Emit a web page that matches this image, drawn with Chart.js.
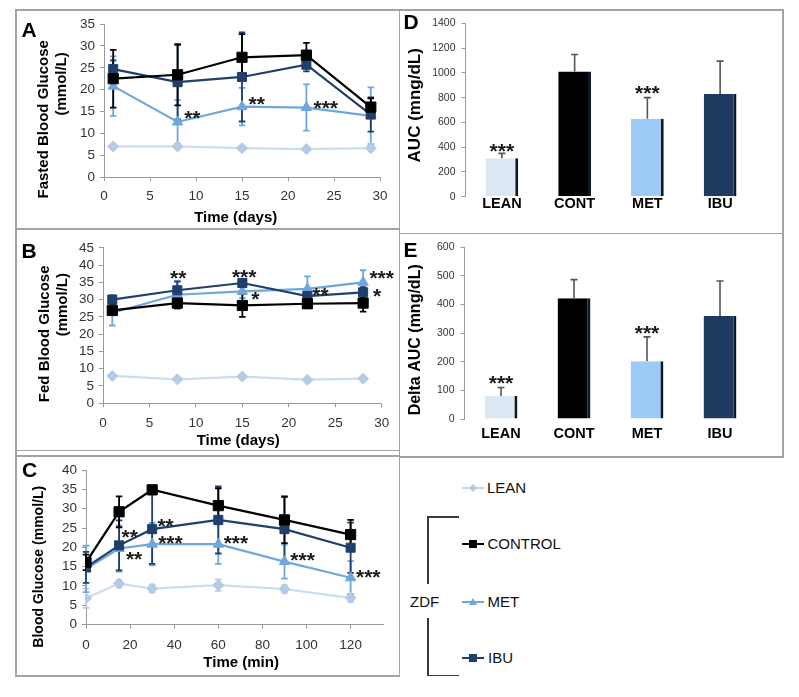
<!DOCTYPE html>
<html><head><meta charset="utf-8">
<script src="https://cdn.jsdelivr.net/npm/chart.js@4.4.1/dist/chart.umd.min.js"></script>
<style>
html,body{margin:0;padding:0;background:#fff;}
body{width:799px;height:697px;position:relative;overflow:hidden;font-family:"Liberation Sans",Arial,sans-serif;}
.hl,.vl{position:absolute;background:#a3a3a3;}
.hl{height:1.6px;} .vl{width:1.6px;}
.bk{position:absolute;background:#3a3a3a;}
canvas{position:absolute;}
.lbl{position:absolute;font-weight:bold;font-size:21px;line-height:21px;color:#000;}
.lg{position:absolute;font-size:15px;line-height:20px;height:20px;color:#111;white-space:nowrap;}
svg{position:absolute;}
</style></head><body>

<div class="vl" style="left:15.2px;top:9.2px;height:667.5px"></div>
<div class="vl" style="left:398.7px;top:9.2px;height:667.5px"></div>
<div class="vl" style="left:782.2px;top:9.2px;height:448.5px"></div>
<div class="hl" style="left:15.2px;top:9.2px;width:768.6px"></div>
<div class="hl" style="left:15.2px;top:228.4px;width:385px"></div>
<div class="hl" style="left:15.2px;top:449.8px;width:385px"></div>
<div class="hl" style="left:15.2px;top:455.4px;width:385px"></div>
<div class="hl" style="left:15.2px;top:675.2px;width:385px"></div>
<div class="hl" style="left:398.7px;top:232.8px;width:385px"></div>
<div class="hl" style="left:398.7px;top:456.4px;width:385px"></div>

<canvas id="cA" width="381" height="217" style="left:17px;top:11px"></canvas>
<canvas id="cB" width="381" height="219" style="left:17px;top:230.5px"></canvas>
<canvas id="cC" width="381" height="218" style="left:17px;top:457px"></canvas>
<canvas id="cD" width="381" height="221" style="left:401px;top:11px"></canvas>
<canvas id="cE" width="381" height="221" style="left:401px;top:235px"></canvas>

<div class="lbl" style="left:21.5px;top:18.7px">A</div>
<div class="lbl" style="left:21.5px;top:240px">B</div>
<div class="lbl" style="left:22px;top:459px">C</div>
<div class="lbl" style="left:403.5px;top:10.5px">D</div>
<div class="lbl" style="left:403.5px;top:239px">E</div>

<!-- legend -->
<svg style="left:461px;top:481px" width="26" height="14"><line x1="1" y1="7" x2="23" y2="7" stroke="#c3d7ec" stroke-width="2"/><path d="M12 3 L16 7 L12 11 L8 7Z" fill="#b3cbe7"/></svg>
<div class="lg" style="left:487px;top:478px">LEAN</div>
<svg style="left:461px;top:537px" width="26" height="14"><line x1="1" y1="7" x2="23" y2="7" stroke="#000" stroke-width="2"/><rect x="8" y="3" width="8" height="8" fill="#000"/></svg>
<div class="lg" style="left:487.5px;top:534px">CONTROL</div>
<svg style="left:461px;top:595px" width="26" height="14"><line x1="1" y1="7" x2="23" y2="7" stroke="#6ea6de" stroke-width="2"/><path d="M12 3 L16 10 L8 10Z" fill="#6ea6de"/></svg>
<div class="lg" style="left:487.5px;top:592px">MET</div>
<svg style="left:461px;top:651px" width="26" height="14"><line x1="1" y1="7" x2="23" y2="7" stroke="#1f3f6d" stroke-width="2"/><rect x="8" y="3" width="8" height="8" fill="#1f3f6d"/></svg>
<div class="lg" style="left:488px;top:648px">IBU</div>
<div class="lg" style="left:410px;top:592px">ZDF</div>
<div class="bk" style="left:427px;top:516px;width:1.5px;height:67.5px"></div>
<div class="bk" style="left:427px;top:618px;width:1.5px;height:58px"></div>
<div class="bk" style="left:427px;top:516px;width:31.5px;height:1.5px"></div>
<div class="bk" style="left:427px;top:674.5px;width:31.5px;height:1.5px"></div>

<script>
// ---------- data ----------
const daysA = [1, 8, 15, 22, 29];
const leanA = [7.0, 7.0, 6.6, 6.4, 6.6];
const leanAErr = [0.6, 0.6, 0.5, 0.5, 0.5];
const contA = [22.5, 23.4, 27.4, 27.9, 16.0];
const contAErr = [6.6, 7.0, 5.3, 2.8, 2.0];
const metA = [20.8, 12.6, 16.1, 15.9, 14.0];
const metAErr = [6.8, 5.0, 4.3, 5.3, 6.5];
const ibuA = [24.7, 21.7, 22.9, 25.7, 14.3];
const ibuAErr = [2.0, 8.5, 10.2, 1.5, 3.9];

const daysB = [1, 8, 15, 22, 28];
const leanB = [7.9, 6.9, 7.7, 6.8, 7.1];
const leanBErr = [0.5, 0.5, 0.5, 0.5, 0.5];
const contB = [26.9, 29.0, 28.3, 28.8, 29.0];
const contBErr = [1.0, 1.5, 3.3, 1.2, 2.5];
const metB = [26.2, 31.4, 32.4, 33.1, 35.0];
const metBErr = [3.7, 4.0, 2.0, 3.6, 3.5];
const ibuB = [30.0, 32.7, 34.8, 31.0, 32.1];
const ibuBErr = [1.2, 2.5, 1.0, 1.5, 1.5];

const minsC = [0, 15, 30, 60, 90, 120];
const leanC = [6.8, 10.6, 9.3, 10.2, 9.2, 6.9];
const leanCErr = [2.5, 1.0, 1.0, 1.5, 1.0, 1.0];
const contC = [16.1, 29.2, 34.9, 30.8, 27.1, 23.3];
const contCErr = [2.0, 4.0, 1.0, 4.5, 6.0, 3.8];
const metC = [14.4, 19.7, 20.8, 20.8, 16.3, 12.1];
const metCErr = [6.0, 6.0, 5.5, 5.1, 4.4, 4.3];
const ibuC = [14.8, 20.5, 24.7, 27.1, 24.7, 19.9];
const ibuCErr = [4.0, 6.5, 9.0, 8.7, 8.5, 6.5];

const groups = ['LEAN', 'CONT', 'MET', 'IBU'];
const aucD = [310, 1010, 630, 830];
const aucDErr = [40, 138, 170, 265];
const deltaE = [80, 422, 202, 360];
const deltaEErr = [30, 65, 85, 122];

const starsA = [{x: 9.6, y: 14.6, t: '**'}, {x: 16.6, y: 17.9, t: '**'}, {x: 24.1, y: 17.0, t: '***'}];
const starsB = [{x: 8.1, y: 37.8, t: '**'}, {x: 15.2, y: 38.1, t: '***'}, {x: 16.4, y: 31.5, t: '*'},
                {x: 23.4, y: 32.9, t: '**'}, {x: 30.0, y: 37.8, t: '***'}, {x: 29.5, y: 32.6, t: '*'}];
const starsC = [{x: 19.8, y: 24.0, t: '**'}, {x: 36.1, y: 26.9, t: '**'}, {x: 38.3, y: 22.4, t: '***'},
                {x: 21.8, y: 18.2, t: '**'}, {x: 68.0, y: 22.3, t: '***'}, {x: 98.2, y: 17.9, t: '***'},
                {x: 128.0, y: 13.6, t: '***'}];
const starsD = [{x: 0, y: 406, t: '***'}, {x: 2, y: 876, t: '***'}];
const starsE = [{x: 0, y: 145, t: '***'}, {x: 2, y: 318, t: '***'}];

// ---------- styles ----------
const FAM = '"Liberation Sans", Arial, sans-serif';
const NB = '\u00A0';
const cLean = '#b3cbe7', cLeanLine = '#c9dcf0';
const cCont = '#000000';
const cMet = '#6ea6de';
const cIbu = '#1f3f6d';
const axisCol = '#9a9a9a';
const tickCol = '#333';
const barCols = ['#dbe8f4', '#000000', '#9ecbf5', '#1f3a5f'];

const errPlugin = {
  id: 'errbars',
  beforeDatasetsDraw(chart, args, opts) { if (!opts.over) drawErr(chart, opts); },
  afterDatasetsDraw(chart, args, opts) { if (opts.over) drawErr(chart, opts); }
};
function drawErr(chart, opts) {
  const ctx = chart.ctx;
  ctx.save();
  const dss = chart.data.datasets;
  for (let i = dss.length - 1; i >= 0; i--) {
    const ds = dss[i];
    if (!ds.errors) continue;
    const meta = chart.getDatasetMeta(i);
    const ys = chart.scales[meta.yAxisID];
    meta.data.forEach((el, j) => {
      const raw = ds.data[j];
      const v = (raw !== null && typeof raw === 'object') ? raw.y : raw;
      const e = ds.errors[j];
      const x = el.x;
      const top = ys.getPixelForValue(v + e);
      const bot = opts.upOnly ? ys.getPixelForValue(v) : ys.getPixelForValue(v - e);
      ctx.strokeStyle = ds.errColor || opts.color;
      ctx.lineWidth = opts.width;
      ctx.beginPath();
      ctx.moveTo(x, top); ctx.lineTo(x, bot);
      ctx.moveTo(x - opts.cap / 2, top); ctx.lineTo(x + opts.cap / 2, top);
      if (!opts.upOnly) { ctx.moveTo(x - opts.cap / 2, bot); ctx.lineTo(x + opts.cap / 2, bot); }
      ctx.stroke();
    });
  }
  ctx.restore();
}
const starPlugin = {
  id: 'stars',
  afterDatasetsDraw(chart, args, opts) {
    const ctx = chart.ctx, xs = chart.scales.x, ys = chart.scales.y;
    ctx.save();
    ctx.font = 'bold ' + opts.size + 'px ' + FAM;
    ctx.fillStyle = '#1a1a1a';
    ctx.textAlign = 'center';
    ctx.textBaseline = 'alphabetic';
    opts.items.forEach(s => {
      ctx.fillText(s.t, xs.getPixelForValue(s.x), ys.getPixelForValue(s.y) + opts.size * 0.575);
    });
    ctx.restore();
  }
};

function mkDs(label, xs, ys, errs, col, lineCol, style, radius) {
  return {
    label, data: xs.map((x, i) => ({x, y: ys[i]})), errors: errs, errColor: col,
    borderColor: lineCol, backgroundColor: col, pointBackgroundColor: col, pointBorderColor: col,
    pointStyle: style, pointRadius: radius, pointBorderWidth: 1, borderWidth: 2.2, tension: 0
  };
}

function lineChart(id, c) {
  return new Chart(document.getElementById(id), {
    type: 'line',
    data: { datasets: [
      mkDs('CONTROL', c.xs, c.cont, c.contErr, cCont, cCont, 'rect', 7.2),
      mkDs('IBU', c.xs, c.ibu, c.ibuErr, cIbu, cIbu, 'rect', 6.4),
      mkDs('MET', c.xs, c.met, c.metErr, cMet, cMet, 'triangle', 6),
      mkDs('LEAN', c.xs, c.lean, c.leanErr, cLean, cLeanLine, 'rectRot', 5.5)
    ]},
    options: {
      responsive: false, animation: false, events: [],
      layout: { padding: { left: 0, right: c.R, top: c.T, bottom: 0 } },
      plugins: {
        legend: { display: false }, tooltip: { enabled: false },
        errbars: { over: false, width: 1.8, cap: 6.5, upOnly: false },
        stars: { items: c.stars, size: 21 }
      },
      scales: {
        x: {
          type: 'linear', min: 0, max: c.xmax,
          ticks: { stepSize: c.xstep, includeBounds: false, autoSkip: false, maxRotation: 0, padding: c.xtp, color: tickCol, font: { family: FAM, size: 13.5 } },
          grid: { drawOnChartArea: false, drawTicks: true, tickLength: 4, color: axisCol },
          border: { display: true, color: axisCol, width: 1 },
          title: { display: true, text: c.xtitle, color: '#000', font: { family: FAM, size: 15, weight: 'bold' }, padding: { top: 0, bottom: c.xpb } },
          afterFit: s => { s.height = c.Hx; }
        },
        y: {
          min: 0, max: c.ymax,
          ticks: { stepSize: 5, autoSkip: false, padding: 5, color: tickCol, font: { family: FAM, size: 13.5 } },
          grid: { drawOnChartArea: false, drawTicks: true, tickLength: 4, color: axisCol },
          border: { display: true, color: axisCol, width: 1 },
          title: { display: true, text: c.ytitle, color: '#000', font: { family: FAM, size: c.ytsize, weight: 'bold' }, padding: { top: c.ypt, bottom: 0 } },
          afterFit: s => { s.width = c.Wy; }
        }
      }
    },
    plugins: [errPlugin, starPlugin]
  });
}

function barChart(id, c) {
  return new Chart(document.getElementById(id), {
    type: 'bar',
    data: { labels: groups, datasets: [{
      data: c.vals, errors: c.errs, backgroundColor: barCols, borderColor: '#0b1829',
      borderWidth: { top: 0, right: 3, bottom: 0, left: 0 }, borderSkipped: false,
      barPercentage: 0.45, categoryPercentage: 1
    }]},
    options: {
      responsive: false, animation: false, events: [],
      layout: { padding: { left: 0, right: c.R, top: c.T, bottom: 0 } },
      plugins: {
        legend: { display: false }, tooltip: { enabled: false },
        errbars: { over: true, width: 1.6, cap: 7, upOnly: true, color: '#555' },
        stars: { items: c.stars, size: 21 }
      },
      scales: {
        x: {
          ticks: { padding: c.xtp, autoSkip: false, maxRotation: 0, color: '#000', font: { family: FAM, size: 14.5, weight: 'bold', lineHeight: 1 } },
          grid: { display: false, drawTicks: false },
          border: { display: false },
          afterFit: s => { s.height = c.Hx; }
        },
        y: {
          min: 0, max: c.ymax,
          ticks: { stepSize: c.ystep, autoSkip: false, padding: 6, color: tickCol, font: { family: FAM, size: 10.5 }, callback: v => String(v) },
          grid: { drawOnChartArea: false, drawTicks: true, tickLength: 4, color: axisCol },
          border: { display: true, color: axisCol, width: 1 },
          title: { display: true, text: c.ytitle, color: '#000', font: { family: FAM, size: c.ytsize, weight: 'bold' }, padding: { top: c.ypt, bottom: 0 } },
          afterFit: s => { s.width = c.Wy; }
        }
      }
    },
    plugins: [errPlugin, starPlugin]
  });
}

lineChart('cA', {
  xs: daysA, lean: leanA, leanErr: leanAErr, cont: contA, contErr: contAErr, met: metA, metErr: metAErr, ibu: ibuA, ibuErr: ibuAErr,
  stars: starsA, xmax: 30, xstep: 5, ymax: 35, R: 18, T: 11.5, Hx: 51, Wy: 87, xtp: 7.5, xpb: 1.5, ypt: 18,
  xtitle: 'Time (days)' + NB.repeat(3), ytsize: 15,
  ytitle: ['Fasted Blood Glucose' + NB.repeat(9), NB.repeat(8) + '(mmol/L)']
});
lineChart('cB', {
  xs: daysB, lean: leanB, leanErr: leanBErr, cont: contB, contErr: contBErr, met: metB, metErr: metBErr, ibu: ibuB, ibuErr: ibuBErr,
  stars: starsB, xmax: 30, xstep: 5, ymax: 45, R: 16.3, T: 16.8, Hx: 46.8, Wy: 86, xtp: 7.5, xpb: 0, ypt: 19,
  xtitle: 'Time (days)' + NB.repeat(2), ytsize: 15,
  ytitle: ['Fed Blood Glucose' + NB.repeat(4), NB.repeat(10) + '(mmol/L)']
});
lineChart('cC', {
  xs: minsC, lean: leanC, leanErr: leanCErr, cont: contC, contErr: contCErr, met: metC, metErr: metCErr, ibu: ibuC, ibuErr: ibuCErr,
  stars: starsC, xmax: 135, xstep: 20, ymax: 40, R: 14.3, T: 10.7, Hx: 50.5, Wy: 69, xtp: 9, xpb: 3, ypt: 14.1,
  xtitle: NB.repeat(3) + 'Time (min)', ytsize: 14,
  ytitle: 'Blood Glucose (mmol/L)' + NB.repeat(10)
});
barChart('cD', { vals: aucD, errs: aucDErr, stars: starsD, ymax: 1400, ystep: 200, R: 25.5, T: 7.3, Hx: 35.3, Wy: 64.5, xtp: 0,
  ytsize: 17, ypt: 4.3, ytitle: NB.repeat(2) + 'AUC (mng/dL)' });
barChart('cE', { vals: deltaE, errs: deltaEErr, stars: starsE, ymax: 600, ystep: 100, R: 25.5, T: 9, Hx: 37, Wy: 63.5, xtp: 8,
  ytsize: 16, ypt: 4.9, ytitle: 'Delta AUC (mng/dL)' + NB.repeat(3) });
</script>
</body></html>
